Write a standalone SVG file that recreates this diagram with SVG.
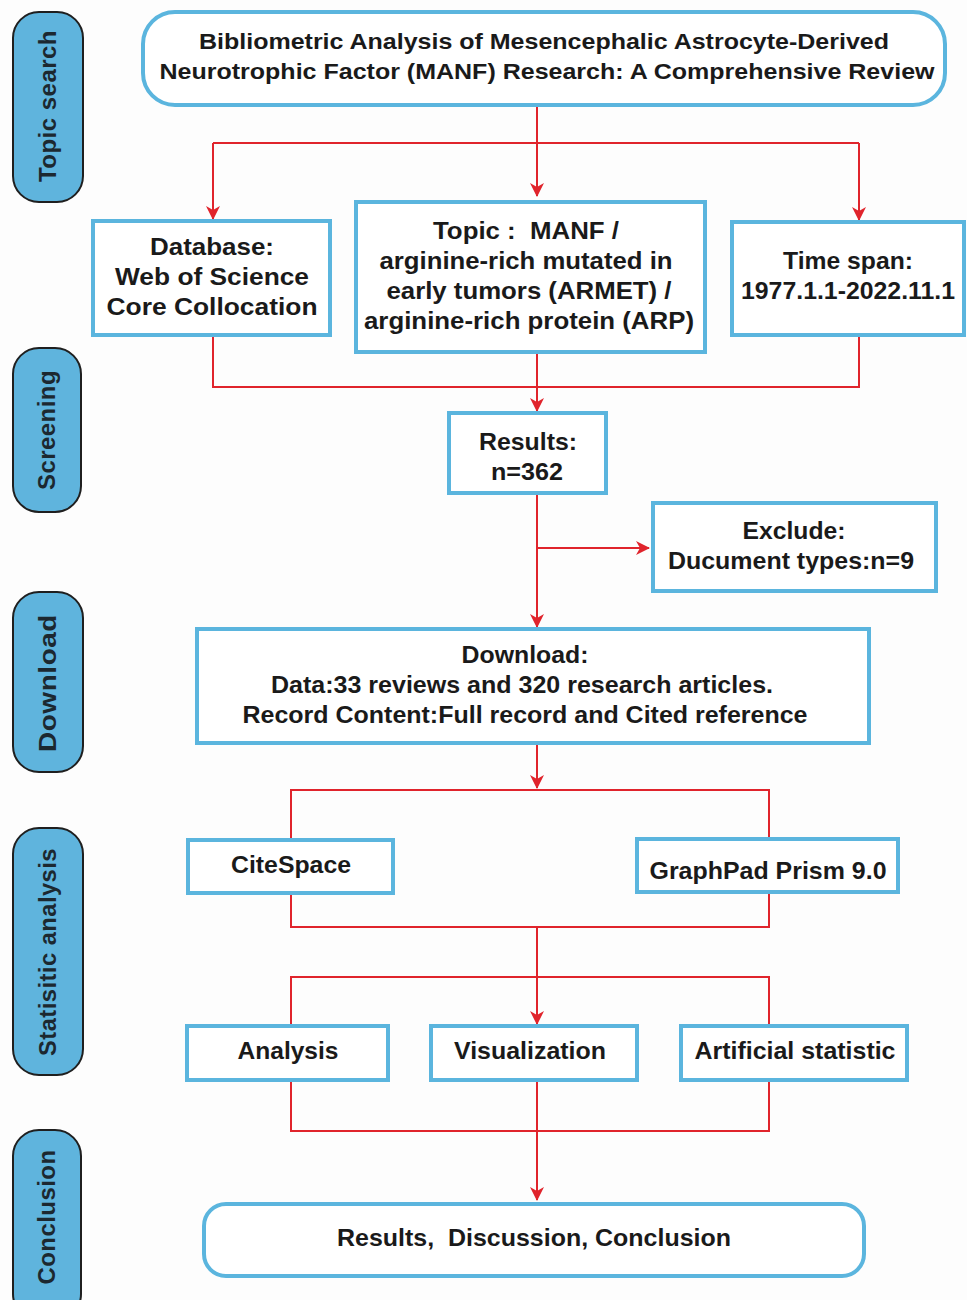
<svg xmlns="http://www.w3.org/2000/svg" width="967" height="1300" viewBox="0 0 967 1300">
<style>
.bg{fill:#fdfdfd}
.side rect{fill:#5fb4dd;stroke:#1f1f1f;stroke-width:2}
.side text{font-family:"Liberation Sans",Arial,sans-serif;font-weight:bold;font-size:24px;fill:#1c2830;text-anchor:middle;letter-spacing:0.5px}
.node rect{fill:#ffffff;stroke:#5bb5de;stroke-width:4}
.node text{font-family:"Liberation Sans",Arial,sans-serif;font-weight:bold;font-size:24px;fill:#1a1a1a;text-anchor:middle}
.title text{font-size:22px}
.conn path{fill:none;stroke:#e0242c;stroke-width:2}
</style>
<defs>
<marker id="arr" viewBox="0 0 14 14" refX="13" refY="7" markerWidth="14" markerHeight="14" markerUnits="userSpaceOnUse" orient="auto">
<path d="M0,0 L14,7 L0,14 L4,7 z" fill="#e0242c"/>
</marker>
</defs>
<rect class="bg" x="0" y="0" width="967" height="1300"/>

<g id="side-topic" class="side"><rect x="13" y="12" width="70" height="190" rx="26"/><text transform="translate(56,106) rotate(-90)" textLength="152" lengthAdjust="spacingAndGlyphs">Topic search</text></g>
<g id="side-screening" class="side"><rect x="13" y="348" width="68" height="164" rx="26"/><text transform="translate(55,430) rotate(-90)" textLength="120" lengthAdjust="spacingAndGlyphs">Screening</text></g>
<g id="side-download" class="side"><rect x="13" y="592" width="70" height="180" rx="26"/><text transform="translate(56,683) rotate(-90)" textLength="138" lengthAdjust="spacingAndGlyphs">Download</text></g>
<g id="side-statistic" class="side"><rect x="13" y="828" width="70" height="247" rx="26"/><text transform="translate(56,952) rotate(-90)" textLength="208" lengthAdjust="spacingAndGlyphs">Statisitic analysis</text></g>
<g id="side-conclusion" class="side"><rect x="13" y="1130" width="68" height="190" rx="26"/><text transform="translate(55,1217) rotate(-90)" textLength="135" lengthAdjust="spacingAndGlyphs">Conclusion</text></g>

<g id="connectors" class="conn">
<path d="M537,105 V196" marker-end="url(#arr)"/>
<path d="M213,143 H859"/>
<path d="M213,143 V219" marker-end="url(#arr)"/>
<path d="M859,143 V220" marker-end="url(#arr)"/>
<path d="M213,335 V387 H859 V335"/>
<path d="M537,352 V411" marker-end="url(#arr)"/>
<path d="M537,493 V627" marker-end="url(#arr)"/>
<path d="M537,548 H649" marker-end="url(#arr)"/>
<path d="M537,743 V788" marker-end="url(#arr)"/>
<path d="M291,840 V790 H769 V839"/>
<path d="M291,893 V927 H769 V892"/>
<path d="M537,927 V1024" marker-end="url(#arr)"/>
<path d="M291,1026 V977 H769 V1026"/>
<path d="M291,1080 V1131 H769 V1080"/>
<path d="M537,1080 V1200" marker-end="url(#arr)"/>
</g>

<g id="title" class="node title"><rect x="143" y="12" width="802" height="93" rx="32"/>
<text x="544" y="49" textLength="690" lengthAdjust="spacingAndGlyphs">Bibliometric Analysis of Mesencephalic Astrocyte-Derived</text>
<text x="547" y="79" textLength="775" lengthAdjust="spacingAndGlyphs">Neurotrophic Factor (MANF) Research: A Comprehensive Review</text></g>

<g id="database" class="node"><rect x="93" y="221" width="237" height="114"/>
<text x="212" y="255" textLength="124" lengthAdjust="spacingAndGlyphs">Database:</text>
<text x="212" y="285" textLength="194" lengthAdjust="spacingAndGlyphs">Web of Science</text>
<text x="212" y="315" textLength="211" lengthAdjust="spacingAndGlyphs">Core Collocation</text></g>

<g id="topic" class="node"><rect x="356" y="202" width="349" height="150"/>
<text x="526" y="239" textLength="186" lengthAdjust="spacingAndGlyphs" xml:space="preserve">Topic :  MANF /</text>
<text x="526" y="269" textLength="293" lengthAdjust="spacingAndGlyphs">arginine-rich mutated in</text>
<text x="529" y="299" textLength="285" lengthAdjust="spacingAndGlyphs">early tumors (ARMET) /</text>
<text x="529" y="329" textLength="330" lengthAdjust="spacingAndGlyphs">arginine-rich protein (ARP)</text></g>

<g id="timespan" class="node"><rect x="732" y="222" width="232" height="113"/>
<text x="848" y="269" textLength="130" lengthAdjust="spacingAndGlyphs">Time span:</text>
<text x="848" y="299" textLength="214" lengthAdjust="spacingAndGlyphs">1977.1.1-2022.11.1</text></g>

<g id="results" class="node"><rect x="449" y="413" width="157" height="80"/>
<text x="528" y="450" textLength="98" lengthAdjust="spacingAndGlyphs">Results:</text>
<text x="527" y="480" textLength="72" lengthAdjust="spacingAndGlyphs">n=362</text></g>

<g id="exclude" class="node"><rect x="653" y="503" width="283" height="88"/>
<text x="794" y="539" textLength="103" lengthAdjust="spacingAndGlyphs">Exclude:</text>
<text x="791" y="569" textLength="246" lengthAdjust="spacingAndGlyphs">Ducument types:n=9</text></g>

<g id="download" class="node"><rect x="197" y="629" width="672" height="114"/>
<text x="525" y="663" textLength="127" lengthAdjust="spacingAndGlyphs">Download:</text>
<text x="522" y="693" textLength="502" lengthAdjust="spacingAndGlyphs">Data:33 reviews and 320 research articles.</text>
<text x="525" y="723" textLength="565" lengthAdjust="spacingAndGlyphs">Record Content:Full record and Cited reference</text></g>

<g id="citespace" class="node"><rect x="188" y="840" width="205" height="53"/>
<text x="291" y="873" textLength="120" lengthAdjust="spacingAndGlyphs">CiteSpace</text></g>

<g id="graphpad" class="node"><rect x="637" y="839" width="261" height="53"/>
<text x="768" y="879" textLength="237" lengthAdjust="spacingAndGlyphs">GraphPad Prism 9.0</text></g>

<g id="analysis" class="node"><rect x="187" y="1026" width="201" height="54"/>
<text x="288" y="1059" textLength="101" lengthAdjust="spacingAndGlyphs">Analysis</text></g>

<g id="visualization" class="node"><rect x="431" y="1026" width="206" height="54"/>
<text x="530" y="1059" textLength="152" lengthAdjust="spacingAndGlyphs">Visualization</text></g>

<g id="artificial" class="node"><rect x="681" y="1026" width="226" height="54"/>
<text x="795" y="1059" textLength="201" lengthAdjust="spacingAndGlyphs">Artificial statistic</text></g>

<g id="conclusion" class="node"><rect x="204" y="1204" width="660" height="72" rx="22"/>
<text x="534" y="1246" textLength="394" lengthAdjust="spacingAndGlyphs" xml:space="preserve">Results,  Discussion, Conclusion</text></g>
</svg>
